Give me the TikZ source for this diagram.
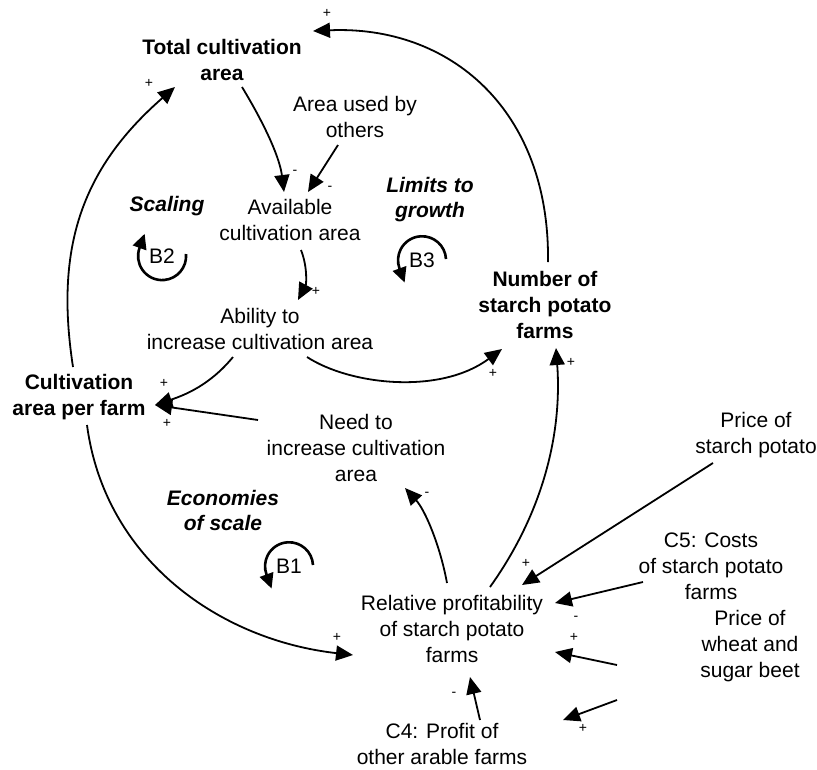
\documentclass[tikz,border=0pt]{standalone}
\usepackage{fontspec}
\setmainfont{Liberation Sans}
\usetikzlibrary{arrows.meta,calc}
\begin{document}
\begin{tikzpicture}[x=1pt,y=-1pt,
  var/.style={align=center,inner sep=0pt,font=\fontsize{21}{26}\selectfont},
  keyvar/.style={align=center,inner sep=0pt,font=\fontsize{21}{26}\selectfont\bfseries},
  loopname/.style={align=center,inner sep=0pt,font=\fontsize{21}{25}\selectfont\bfseries\itshape},
  link/.style={line width=1.8pt,-{Triangle[length=17pt,width=15pt]}},
  pol/.style={inner sep=0pt,font=\fontsize{14}{14}\selectfont},
  loopmark/.style={line width=2.6pt,-{Triangle[length=15pt,width=14pt]}},
  looplabel/.style={inner sep=0pt,font=\fontsize{21}{21}\selectfont},
]
\useasboundingbox (0,0) rectangle (817,769);

% variables
\node[keyvar] (tca)  at (222,60)  {Total cultivation\\area};
\node[var]    (auo)  at (355,117) {Area used by\\others};
\node[var]    (aca)  at (290,220) {Available\\cultivation area};
\node[var]    (abi)  at (260,329) {Ability to\\increase cultivation area};
\node[keyvar] (capf) at (79,397)  {Cultivation\\area per farm};
\node[var]    (need) at (356,448) {Need to\\increase cultivation\\area};
\node[keyvar] (nspf) at (545,305) {Number of\\starch potato\\farms};
\node[var]    (psp)  at (756,435) {Price of\\starch potato};
\node[var]    (c5)   at (711,566) {C5: Costs\\of starch potato\\farms};
\node[var]    (rel)  at (452,629) {Relative profitability\\of starch potato\\farms};
\node[var]    (pw)   at (750,646) {Price of\\wheat and\\sugar beet};
\node[var]    (c4)   at (442,744) {C4: Profit of\\other arable farms};

% loop names
\node[loopname] (lscale)  at (167,206) {Scaling};
\node[loopname] (llimit)  at (430,200) {Limits to\\growth};
\node[loopname] (leconom) at (223,510) {Economies\\of scale};

% loop markers
\node[looplabel] (b2) at (162,256) {B2};
\node[looplabel] (b3) at (422,260) {B3};
\node[looplabel] (b1) at (289,566) {B1};
\draw[loopmark] ($(b2)+(24,-2)$) arc[start angle=-5,end angle=200,radius=24] -- ++(290:15);
\draw[loopmark] ($(b3)+(24,-1)$) arc[start angle=-3,end angle=-200,radius=24] -- ++(70:15);
\draw[loopmark] ($(b1)+(24,-1)$) arc[start angle=-3,end angle=-200,radius=24] -- ++(70:15);

% causal links
\draw[link] ($(nspf)+(3,-43)$) .. controls +(2,-152) and +(137,-6) .. ($(tca)+(91,-29)$);
\draw[link] ($(capf)+(-6,-30)$) .. controls +(-18,-117) and +(-95,83) .. ($(tca)+(-47,27)$);
\draw[link] ($(tca)+(20,27)$) .. controls +(26,43) and +(-4,-32) .. ($(aca)+(-6,-28)$);
\draw[link] ($(auo)+(-17,28)$) -- ($(aca)+(18,-28)$);
\draw[link] ($(aca)+(11,30)$) .. controls +(7,18) and +(8,-15) .. ($(abi)+(38,-29)$);
\draw[link] ($(abi)+(-27,28)$) .. controls +(-23,28) and +(30,-10) .. ($(capf)+(76,8)$);
\draw[link] ($(abi)+(47,28)$) .. controls +(43,28) and +(-62,46) .. ($(nspf)+(-43,44)$);
\draw[link] ($(need)+(-98,-28)$) -- ($(capf)+(76,8)$);
\draw[link] ($(rel)+(-5,-46)$) .. controls +(-7,-38) and +(20,22) .. ($(need)+(49,40)$);
\draw[link] ($(rel)+(38,-42)$) .. controls +(55,-77) and +(6,82) .. ($(nspf)+(11,43)$);
\draw[link] ($(capf)+(8,28)$) .. controls +(18,135) and +(-133,-15) .. ($(rel)+(-99,26)$);
\draw[link] ($(psp)+(-43,28)$) -- ($(rel)+(70,-44)$);
\draw[link] ($(c5)+(-68,16)$) -- ($(rel)+(103,-26)$);
\draw[link] ($(pw)+(-133,19)$) -- ($(rel)+(103,23)$);
\draw[link] ($(pw)+(-133,54)$) -- ($(c4)+(121,-24)$);
\draw[link] ($(c4)+(38,-24)$) -- ($(rel)+(18,48)$);

% link polarities
\node[pol] (p1)  at (327,13)  {+};
\node[pol] (p2)  at (149,83)  {+};
\node[pol] (p3)  at (295,172) {-};
\node[pol] (p4)  at (330,188) {-};
\node[pol] (p5)  at (316,291) {+};
\node[pol] (p6)  at (164,383) {+};
\node[pol] (p7)  at (493,373) {+};
\node[pol] (p8)  at (167,423) {+};
\node[pol] (p9)  at (427,494) {-};
\node[pol] (p10) at (571,362) {+};
\node[pol] (p11) at (337,637) {+};
\node[pol] (p12) at (526,563) {+};
\node[pol] (p13) at (576,618) {-};
\node[pol] (p14) at (574,637) {+};
\node[pol] (p15) at (454,694) {-};
\node[pol] (p16) at (583,728) {+};
\end{tikzpicture}
\end{document}
